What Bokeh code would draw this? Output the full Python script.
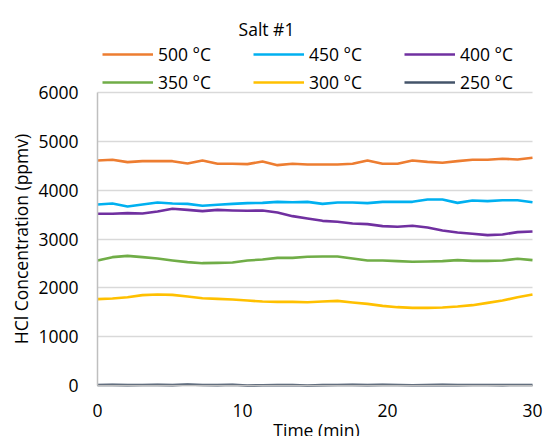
import math
from bokeh.plotting import figure
from bokeh.models import Range1d, FixedTicker, Legend, LegendItem, Label
from bokeh.embed import file_html
from bokeh.resources import INLINE

# ---- data ----
time_min = [0, 1.03, 2.07, 3.10, 4.14, 5.17, 6.21, 7.24, 8.28, 9.31,
            10.34, 11.38, 12.41, 13.45, 14.48, 15.52, 16.55, 17.59, 18.62, 19.66,
            20.69, 21.72, 22.76, 23.79, 24.83, 25.86, 26.90, 27.93, 28.97, 30.0]

hcl_500 = [4608, 4622, 4574, 4594, 4594, 4594, 4546, 4608, 4540, 4540,
           4533, 4587, 4512, 4540, 4526, 4526, 4526, 4540, 4608, 4540,
           4540, 4608, 4580, 4560, 4594, 4622, 4622, 4642, 4628, 4663]
hcl_450 = [3707, 3727, 3666, 3707, 3748, 3727, 3720, 3680, 3700, 3720,
           3734, 3740, 3761, 3754, 3761, 3720, 3748, 3748, 3734, 3761,
           3761, 3761, 3809, 3809, 3740, 3788, 3775, 3795, 3795, 3754]
hcl_400 = [3516, 3516, 3529, 3522, 3563, 3618, 3597, 3570, 3597, 3584,
           3577, 3584, 3543, 3468, 3420, 3372, 3352, 3318, 3304, 3263,
           3250, 3270, 3236, 3175, 3134, 3107, 3079, 3093, 3141, 3154]
hcl_350 = [2560, 2628, 2655, 2628, 2600, 2560, 2526, 2505, 2512, 2519,
           2560, 2580, 2614, 2614, 2635, 2642, 2642, 2600, 2560, 2560,
           2546, 2533, 2540, 2546, 2567, 2553, 2553, 2560, 2594, 2567]
hcl_300 = [1768, 1781, 1808, 1850, 1863, 1856, 1822, 1788, 1774, 1761,
           1740, 1720, 1713, 1713, 1706, 1720, 1733, 1700, 1672, 1631,
           1604, 1590, 1590, 1597, 1617, 1645, 1692, 1740, 1808, 1863]
hcl_250 = [10, 12, 8, 10, 12, 8, 20, 10, 8, 14,
           0, 6, 8, 10, 0, 8, 10, 12, 8, 12,
           10, 6, 8, 12, 8, 10, 10, 8, 10, 10]

series_labels = ["500 °C", "450 °C", "400 °C", "350 °C", "300 °C", "250 °C"]
series_values = [hcl_500, hcl_450, hcl_400, hcl_350, hcl_300, hcl_250]
series_colors = ["#ED7D31", "#00B0F0", "#7030A0", "#70AD47", "#FFC000", "#44546A"]

x_ticks = [0, 10, 20, 30]
y_ticks = [0, 1000, 2000, 3000, 4000, 5000, 6000]
x_max = 30
y_max = 6000

title_text = "Salt #1"
x_label = "Time (min)"
y_label = "HCl Concentration (ppmv)"

FONT = "Open Sans"
FS = "17.5px"
TXT = "#000000"

# ---- layout (page pixels); the frame covers the whole canvas ----
W, H = 545, 436
DATA_LEFT, DATA_RIGHT = 97, 532     # where 0 and x_max sit
DATA_TOP, DATA_BOTTOM = 92, 385     # where y_max and 0 sit
xpp = x_max / (DATA_RIGHT - DATA_LEFT)
ypp = y_max / (DATA_BOTTOM - DATA_TOP)
x_lo, x_hi = -DATA_LEFT * xpp, x_max + (W - DATA_RIGHT) * xpp
y_lo, y_hi = -(H - DATA_BOTTOM) * ypp, y_max + DATA_TOP * ypp

p = figure(width=W, height=H, output_backend="svg", toolbar_location=None,
           x_range=Range1d(x_lo, x_hi), y_range=Range1d(y_lo, y_hi),
           min_border_left=0, min_border_right=0,
           min_border_top=0, min_border_bottom=0)
p.outline_line_color = None
p.background_fill_color = "white"
p.border_fill_color = "white"

# horizontal gridlines limited to the data area
grid_color, grid_width = "#d9d9d9", 1.3
ygrid = p.ygrid[0]
if "cross_bounds" in ygrid.properties():
    ygrid.ticker = FixedTicker(ticks=y_ticks)
    ygrid.cross_bounds = (0, x_max)
    ygrid.grid_line_color = grid_color
    ygrid.grid_line_width = grid_width
else:
    ygrid.grid_line_color = None
    p.segment(x0=[x_ticks[0]] * len(y_ticks), x1=[x_ticks[-1]] * len(y_ticks),
              y0=y_ticks, y1=y_ticks, line_color=grid_color, line_width=grid_width,
              level="underlay")
p.xgrid.grid_line_color = None

renderers = []
for vals, col in zip(series_values, series_colors):
    r = p.line(time_min, vals, line_color=col, line_width=2.6, line_join="round")
    renderers.append(r)

# axes, fixed at the data origin
p.xaxis.ticker = FixedTicker(ticks=x_ticks)
p.yaxis.ticker = FixedTicker(ticks=y_ticks)
p.xaxis.bounds = (0, x_max)
p.yaxis.bounds = (0, y_max)
p.xaxis.fixed_location = 0
p.yaxis.fixed_location = 0
for ax in (p.xaxis, p.yaxis):
    ax.major_tick_line_color = None
    ax.minor_tick_line_color = None
    ax.major_tick_out = 0
    ax.major_tick_in = 0
    ax.major_label_text_font = FONT
    ax.major_label_text_font_size = FS
    ax.major_label_text_color = TXT
    ax.axis_line_color = "#bfbfbf"
    ax.axis_line_width = 1.5
p.yaxis.major_label_standoff = 19
p.xaxis.major_label_standoff = 18

# legend above the data area
items = [LegendItem(label=lab, renderers=[r]) for lab, r in zip(series_labels, renderers)]
legend = Legend(items=items, location=(102, H - 93.7), orientation="horizontal", ncols=3,
                glyph_width=51, glyph_height=20, label_standoff=5,
                label_width=91, label_height=24, spacing=4,
                padding=0, margin=0, border_line_color=None,
                background_fill_alpha=0,
                label_text_font=FONT, label_text_font_size=FS, label_text_color=TXT)
p.add_layout(legend, "center")

def text_label(txt, x, y, angle=0.0):
    return Label(x=x, y=y, x_units="screen", y_units="screen", angle=angle,
                 text=txt, text_align="center", text_baseline="alphabetic",
                 text_font=FONT, text_font_size=FS, text_color=TXT)

p.add_layout(text_label(title_text, 266, H - 28.3))
p.add_layout(text_label(x_label, 316, 7))
p.add_layout(text_label(y_label, 20, H - (DATA_TOP + DATA_BOTTOM) / 2, math.pi / 2))

open("out.html", "w").write(file_html(p, INLINE))
